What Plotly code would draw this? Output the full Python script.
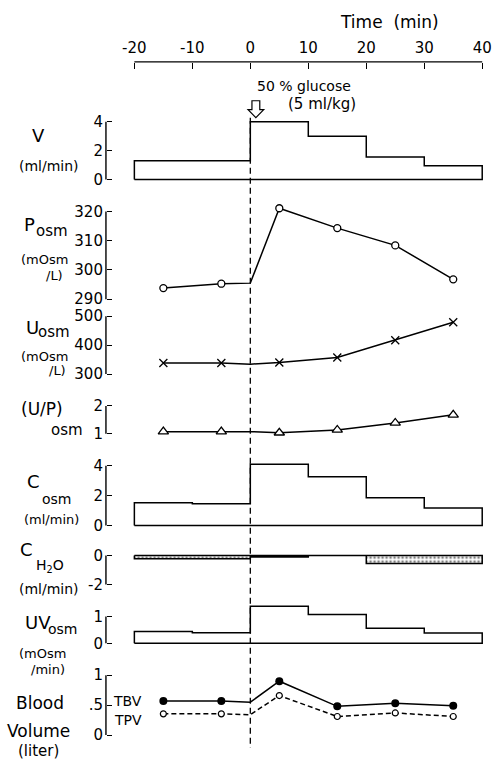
import plotly.graph_objects as go

W, H = 497, 764

# ---------------- data ----------------
bin_edges = [-20, -10, 0, 10, 20, 30, 40]
v_flow = [1.3, 1.3, 4.0, 3.0, 1.55, 0.95]
c_osm = [1.53, 1.47, 4.1, 3.27, 1.87, 1.18]
c_h2o = [-0.22, -0.22, -0.1, 0.0, -0.55, -0.55]
uv_osm = [0.44, 0.39, 1.38, 1.07, 0.56, 0.38]

sample_times = [-15, -5, 0, 5, 15, 25, 35]
p_osm = [293.8, 295.3, 295.5, 321.1, 314.3, 308.4, 296.8]
u_osm = [338, 338, 334, 340, 357, 417, 479]
up_ratio = [1.08, 1.08, 1.08, 1.04, 1.14, 1.39, 1.68]
tbv = [0.57, 0.57, 0.55, 0.90, 0.48, 0.53, 0.49]
tpv = [0.355, 0.355, 0.34, 0.66, 0.31, 0.37, 0.31]

time_ticks = [-20, -10, 0, 10, 20, 30, 40]
time_tick_labels = ["-20", "-10", "0", "10", "20", "30", "40"]

FONT = "DejaVu Sans"
LW = 1.5


def px(x):
    return x / W


def py(y):
    return 1 - y / H


def step_outline(edges, vals):
    xs = [edges[0]] + edges[:-1] + [edges[-1], edges[-1], edges[0]]
    ys = [0] + list(vals) + [vals[-1], 0, 0]
    return xs, ys


def msizes(times, size):
    return [0 if t == 0 else size for t in times]


# panel layout: bracket top/bottom pixel, tick range
panels = [
    dict(top=122, bot=180, lo=0, hi=4, tv=[0, 2, 4], tt=["0", "2", "4"]),
    dict(top=212, bot=300, lo=290, hi=320, tv=[290, 300, 310, 320], tt=["290", "300", "310", "320"]),
    dict(top=317, bot=375, lo=300, hi=500, tv=[300, 400, 500], tt=["300", "400", "500"]),
    dict(top=407, bot=435, lo=1, hi=2, tv=[1, 2], tt=["1", "2"]),
    dict(top=467, bot=527, lo=0, hi=4, tv=[0, 2, 4], tt=["0", "2", "4"]),
    dict(top=557, bot=586, lo=-2, hi=0, tv=[-2, 0], tt=["-2", "0"]),
    dict(top=618, bot=645, lo=0, hi=1, tv=[0, 1], tt=["0", "1"]),
    dict(top=677, bot=737, lo=0, hi=1, tv=[0, 0.5, 1], tt=["0", ".5", "1"]),
]
PAD_T, PAD_B = 16, 7
AXIS_X = 102

fig = go.Figure()
layout = {}
shapes = []

x_lo, x_hi = -21, 41
sc = (486 - 131) / 60.0
layout["xaxis"] = dict(
    range=[x_lo, x_hi],
    domain=[px(131 - sc), px(486 + sc)],
    anchor="free", position=py(62), side="top",
    showline=False, showgrid=False, zeroline=False,
    ticks="inside", ticklen=6, tickwidth=1.3, tickcolor="black",
    tickvals=time_ticks, ticktext=time_tick_labels,
    tickfont=dict(family=FONT, size=15, color="black"),
    ticklabelstandoff=6,
)

for i, p in enumerate(panels):
    name = "yaxis" if i == 0 else f"yaxis{i+1}"
    ref = "y" if i == 0 else f"y{i+1}"
    s = (p["hi"] - p["lo"]) / (p["bot"] - p["top"])
    layout[name] = dict(
        range=[p["lo"] - PAD_B * s, p["hi"] + PAD_T * s],
        domain=[py(p["bot"] + PAD_B), py(p["top"] - PAD_T)],
        anchor="free", position=px(AXIS_X),
        showline=False, showgrid=False, zeroline=False,
        ticks="inside", ticklen=5, tickwidth=1.3, tickcolor="black",
        tickvals=p["tv"], ticktext=p["tt"],
        tickfont=dict(family=FONT, size=15, color="black"),
        ticklabelstandoff=3,
    )
    shapes.append(dict(type="line", xref="paper", yref=ref,
                       x0=px(AXIS_X), x1=px(AXIS_X), y0=p["lo"], y1=p["hi"],
                       line=dict(color="black", width=1.4)))

# ---------------- traces ----------------
# V (step bars)
xs, ys = step_outline(bin_edges, v_flow)
fig.add_trace(go.Scatter(x=xs, y=ys, mode="lines", line_shape="hv",
                         line=dict(color="black", width=LW), yaxis="y"))
# Posm
fig.add_trace(go.Scatter(x=sample_times, y=p_osm, mode="lines+markers", yaxis="y2",
                         line=dict(color="black", width=LW),
                         marker=dict(symbol="circle", size=msizes(sample_times, 7), color="white",
                                     opacity=1, line=dict(color="black", width=1.3))))
# Uosm
fig.add_trace(go.Scatter(x=sample_times, y=u_osm, mode="lines+markers", yaxis="y3",
                         line=dict(color="black", width=LW),
                         marker=dict(symbol="x-thin", size=msizes(sample_times, 8), opacity=1,
                                     line=dict(color="black", width=1.3))))
# U/P
fig.add_trace(go.Scatter(x=sample_times, y=up_ratio, mode="lines+markers", yaxis="y4",
                         line=dict(color="black", width=LW),
                         marker=dict(symbol="triangle-up", size=msizes(sample_times, 9), color="white",
                                     opacity=1, line=dict(color="black", width=1.3))))
# Cosm
xs, ys = step_outline(bin_edges, c_osm)
fig.add_trace(go.Scatter(x=xs, y=ys, mode="lines", line_shape="hv", yaxis="y5",
                         line=dict(color="black", width=LW)))
# CH2O
xs, ys = step_outline(bin_edges, c_h2o)
fig.add_trace(go.Scatter(x=xs, y=ys, mode="lines", line_shape="hv", yaxis="y6",
                         fill="toself", fillcolor="white",
                         fillpattern=dict(shape=".", size=4, solidity=0.35,
                                          fgcolor="black", bgcolor="white"),
                         line=dict(color="black", width=LW)))
# UVosm
xs, ys = step_outline(bin_edges, uv_osm)
fig.add_trace(go.Scatter(x=xs, y=ys, mode="lines", line_shape="hv", yaxis="y7",
                         line=dict(color="black", width=LW)))
# Blood volume
fig.add_trace(go.Scatter(x=sample_times, y=tbv, mode="lines+markers", yaxis="y8",
                         line=dict(color="black", width=LW),
                         marker=dict(symbol="circle", size=msizes(sample_times, 8), color="black",
                                     opacity=1, line=dict(color="black", width=0))))
fig.add_trace(go.Scatter(x=sample_times, y=tpv, mode="lines+markers", yaxis="y8",
                         line=dict(color="black", width=LW, dash="5px,3px"),
                         marker=dict(symbol="circle", size=msizes(sample_times, 6), color="white",
                                     opacity=1, line=dict(color="black", width=1.2))))

# ---------------- decorations ----------------
# top time axis line
shapes.append(dict(type="line", xref="x", yref="paper", x0=-20, x1=40, y0=py(62), y1=py(62),
                   line=dict(color="black", width=1.4)))
# dashed injection line
shapes.append(dict(type="line", xref="x", yref="paper", x0=0, x1=0, y0=py(118), y1=py(750),
                   line=dict(color="black", width=1.3, dash="6px,4px")))
# hollow block arrow
ax = [251, 259, 259, 263, 255, 247, 251]
ay = [101, 101, 110, 110, 118, 110, 110]
path = "M " + " L ".join(f"{px(a):.5f},{py(b):.5f}" for a, b in zip(ax, ay)) + " Z"
shapes.append(dict(type="path", xref="paper", yref="paper", path=path,
                   fillcolor="white", line=dict(color="black", width=1.2)))

annotations = []


def ann(text, x, y, size, xanchor="center"):
    annotations.append(dict(text=text, x=px(x), y=py(y), xref="paper", yref="paper",
                            xanchor=xanchor, yanchor="middle", showarrow=False,
                            font=dict(family=FONT, size=size, color="black")))


ann("Time  (min)", 391, 22, 17)
ann("50 % glucose", 304, 86, 14)
ann("(5 ml/kg)", 322, 104, 15)

ann("V", 33, 136, 18)
ann("(ml/min)", 44, 166, 14)

ann("P", 24, 225, 18)
ann("osm", 47, 232, 15)
ann("(mOsm", 39, 260, 13)
ann("/L)", 49, 276, 13)

ann("U", 27, 328, 18)
ann("osm", 49, 333, 15)
ann("(mOsm", 39, 357, 13)
ann("/L)", 53, 371, 13)

ann("(U/P)", 37, 410, 17)
ann("osm", 62, 431, 15)

ann("C", 28, 483, 18)
ann("osm", 52, 500, 14)
ann("(ml/min)", 46, 521, 13)

ann("C", 21, 551, 18)
ann("H<sub>2</sub>O", 45, 567, 14)
ann("(ml/min)", 44, 591, 14)

ann("UV", 33, 624, 18)
ann("osm", 58, 631, 14)
ann("(mOsm", 37, 655, 13)
ann("/min)", 43, 671, 13)

ann("Blood", 35, 705, 17)
ann("Volume", 33, 733, 17)
ann("(liter)", 33, 753, 15)
ann("TBV", 124, 703, 14)
ann("TPV", 125, 722, 14)

layout.update(dict(
    width=W, height=H, autosize=False,
    margin=dict(l=0, r=0, t=0, b=0),
    paper_bgcolor="white", plot_bgcolor="rgba(0,0,0,0)",
    showlegend=False,
    shapes=shapes, annotations=annotations,
))
fig.update_layout(**layout)
fig.write_html("out.html")
